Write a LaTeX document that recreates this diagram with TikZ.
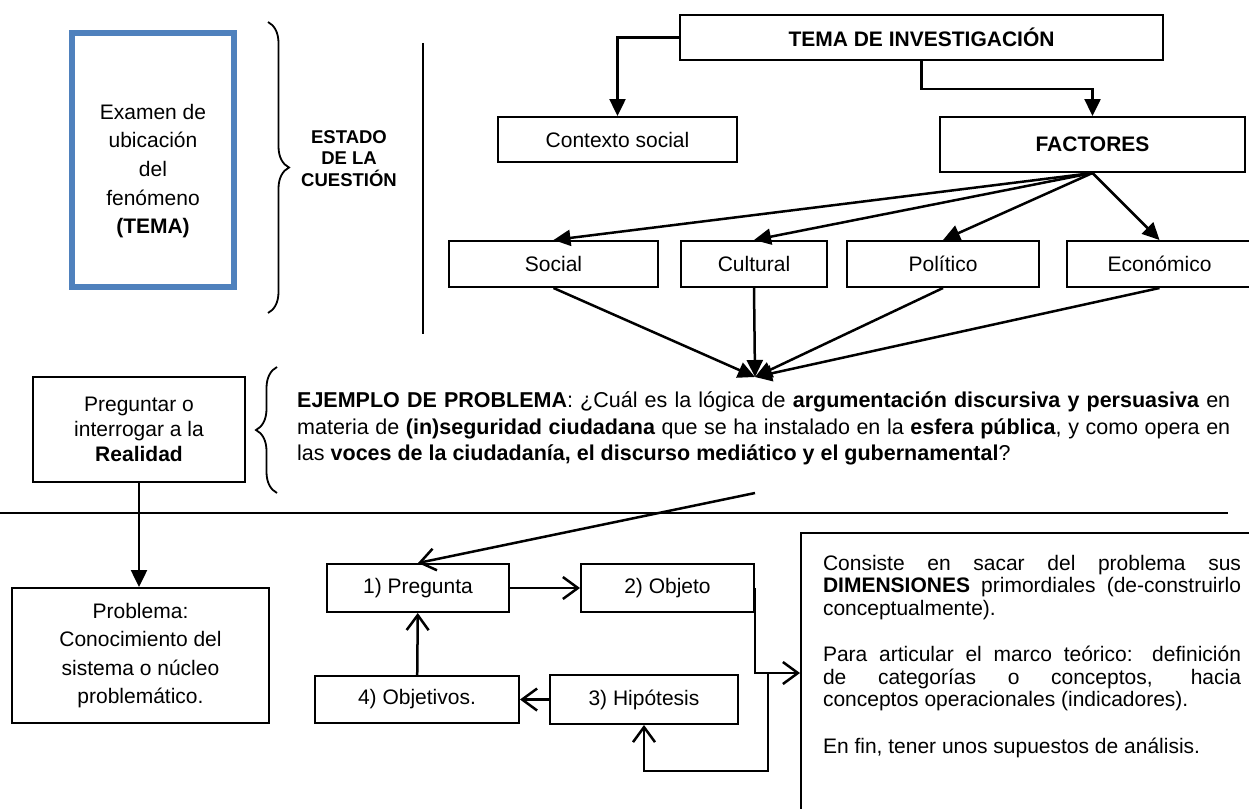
\documentclass[tikz,border=0pt]{standalone}
\usepackage{fontspec}
\setmainfont{Liberation Sans}
\usepackage{xcolor}
\usetikzlibrary{arrows.meta}
\usetikzlibrary{decorations.pathreplacing}
\usetikzlibrary{positioning}
\definecolor{temablue}{HTML}{4F81BD}
\hyphenpenalty=10000
\tolerance=9999

\begin{document}
\begin{tikzpicture}[x=1pt, y=-1pt,
    caja/.style={draw, line width=2pt, align=center, inner sep=0pt, font=\fontsize{21}{25}\selectfont},
    flecha/.style={line width=2.5pt, -{Triangle[length=17pt,width=16pt]}},
    pasos/.style={line width=2.5pt, -{Straight Barb[length=15pt,width=22pt]}},
    llave/.style={decorate, decoration={brace, amplitude=21pt}, line width=1.8pt}]
  \useasboundingbox (0,0) rectangle (1249,808);

  \node[draw=temablue, line width=6pt, minimum width=162pt, minimum height=254pt] (examen) at (153,160) {};
  \node[align=center, font=\fontsize{21}{28.7}\selectfont] (examen_txt) at (153,171) {Examen de\\ubicación\\del\\fenómeno\\\textbf{(TEMA)}};
  \draw[llave] (268,22) -- (268,313);
  \node[align=center, font=\bfseries\fontsize{18.5}{21.5}\selectfont] (estado) at (349,158.5) {ESTADO\\DE LA\\CUESTIÓN};
  \draw[line width=2pt] (423,43) -- (423,334);

  \node[caja, minimum width=483pt, minimum height=45pt, font=\bfseries\fontsize{21}{25}\selectfont] (tema) at (921.5,37.5) {TEMA DE INVESTIGACIÓN};
  \node[caja, minimum width=239pt, minimum height=45pt] (contexto) at (617.5,139.5) {Contexto social};
  \node[caja, minimum width=305pt, minimum height=55pt, font=\bfseries\fontsize{21}{25}\selectfont] (factores) at (1092.5,144.5) {FACTORES};
  \node[caja, minimum width=209pt, minimum height=46pt] (social) at (553.5,264) {Social};
  \node[caja, minimum width=146pt, minimum height=46pt] (cultural) [right=21pt of social] {Cultural};
  \node[caja, minimum width=192pt, minimum height=46pt] (politico) [right=18pt of cultural] {Político};
  \node[caja, minimum width=185pt, minimum height=46pt] (economico) [right=26pt of politico] {Económico};
  \coordinate (problema_pt) at (755,377);

  \draw[flecha] (tema.west) -| (contexto.north);
  \draw[flecha] (tema.south) -- ++(0,28) -| (factores.north);
  \foreach \f in {social,cultural,politico,economico}
    \draw[flecha] (factores.south) -- (\f.north);
  \foreach \f in {social,cultural,politico,economico}
    \draw[flecha] (\f.south) -- (problema_pt);

  \node[caja, minimum width=212pt, minimum height=105pt] (preguntar) at (139,429.5) {Preguntar o\\interrogar a la\\\textbf{Realidad}};
  \draw[llave] (277,493) -- (277,367);
  \node[anchor=west, text width=933pt, align=justify, inner sep=0pt, font=\fontsize{21.5}{26.5}\selectfont] (ejemplo) at (297,428.5) {\textbf{EJEMPLO DE PROBLEMA}: ¿Cuál es la lógica de \textbf{argumentación discursiva y persuasiva} en\linebreak materia de \textbf{(in)seguridad ciudadana} que se ha instalado en la \textbf{esfera pública}, y como opera en\linebreak las \textbf{voces de la ciudadanía, el discurso mediático y el gubernamental}?};
  \draw[line width=2pt] (0,513) -- (1228,513);

  \node[caja, minimum width=257pt, minimum height=135pt, font=\fontsize{21}{28.3}\selectfont] (problema) at (140.5,655.5) {Problema:\\Conocimiento del\\sistema o núcleo\\problemático.};
  \draw[flecha] (preguntar.south) -- (preguntar.south |- problema.north);

  \node[caja, minimum width=182pt, minimum height=48pt] (pregunta) at (418,588) {1) Pregunta};
  \node[caja, minimum width=173pt, minimum height=48pt] (objeto) [right=70pt of pregunta] {2) Objeto};
  \node[caja, minimum width=204pt, minimum height=47pt] (objetivos) at (417,699.5) {4) Objetivos.};
  \node[caja, minimum width=188pt, minimum height=49pt] (hipotesis) [right=29pt of objetivos] {3) Hipótesis};
  \node[draw, line width=2pt, anchor=north west, inner sep=22pt, text width=418pt, align=justify, font=\fontsize{21}{22.5}\selectfont] (consiste) at (800,532) {Consiste en sacar del problema sus\linebreak \textbf{DIMENSIONES} primordiales (de-construirlo conceptualmente).\par\vspace{24pt}
    Para articular el marco teórico: definición\linebreak de categorías o conceptos, hacia\linebreak conceptos operacionales (indicadores).\par\vspace{24pt}
    En fin, tener unos supuestos de análisis.\par\rule{0pt}{120pt}};

  \coordinate (ejemplo_pt) at (755,493);
  \coordinate (cruce) at (768,673);
  \draw[pasos] (ejemplo_pt) -- (pregunta.north);
  \draw[pasos] (pregunta) -- (objeto);
  \draw[pasos] (hipotesis) -- (objetivos);
  \draw[pasos] (objetivos) -- (pregunta);
  \draw[pasos] (objeto.east) |- (cruce) -- (cruce -| consiste.west);
  \draw[pasos] (cruce) -- ++(0,98) -| (hipotesis.south);
\end{tikzpicture}
\end{document}
